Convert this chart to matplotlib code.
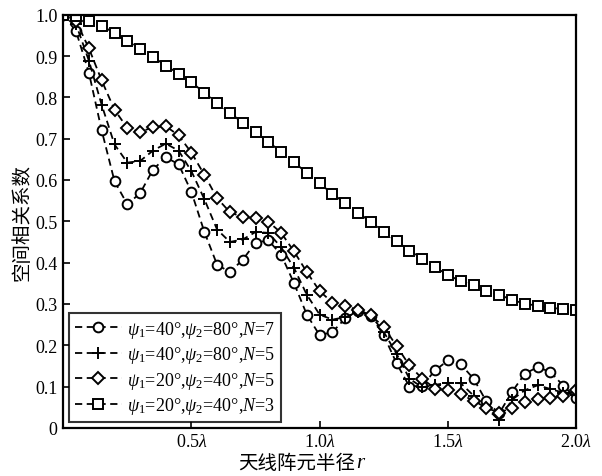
import matplotlib
matplotlib.use("Agg")
import matplotlib.pyplot as plt
import numpy as np

plt.rcParams['font.family'] = ['Liberation Serif', 'Noto Sans CJK SC']
plt.rcParams['mathtext.fontset'] = 'custom'
plt.rcParams['mathtext.rm'] = 'Liberation Serif'
plt.rcParams['mathtext.it'] = 'Liberation Serif:italic'

# radius r in wavelengths, 0.05 lambda steps
r = np.arange(41) * 0.05

rho_a = [1.0, 0.96, 0.86, 0.72, 0.597, 0.541, 0.568, 0.625, 0.655, 0.638,
         0.571, 0.475, 0.395, 0.377, 0.407, 0.448, 0.454, 0.419, 0.35, 0.274,
         0.224, 0.232, 0.265, 0.284, 0.271, 0.224, 0.156, 0.10, 0.102, 0.139,
         0.163, 0.154, 0.119, 0.064, 0.035, 0.087, 0.131, 0.147, 0.135, 0.102,
         0.071]
rho_b = [1.0, 0.977, 0.889, 0.782, 0.686, 0.642, 0.646, 0.671, 0.688, 0.671,
         0.621, 0.554, 0.48, 0.45, 0.456, 0.474, 0.472, 0.437, 0.387, 0.322,
         0.274, 0.262, 0.268, 0.28, 0.272, 0.232, 0.179, 0.119, 0.098, 0.104,
         0.109, 0.108, 0.078, 0.048, 0.018, 0.068, 0.091, 0.103, 0.094, 0.085,
         0.079]
rho_c = [1.0, 0.985, 0.919, 0.841, 0.77, 0.726, 0.716, 0.728, 0.73, 0.708,
         0.666, 0.613, 0.556, 0.522, 0.51, 0.508, 0.499, 0.472, 0.427, 0.377,
         0.331, 0.303, 0.294, 0.286, 0.272, 0.244, 0.198, 0.151, 0.119, 0.095,
         0.092, 0.081, 0.066, 0.048, 0.037, 0.048, 0.062, 0.07, 0.072, 0.078,
         0.091]
rho_d = [1.0, 0.997, 0.986, 0.973, 0.956, 0.936, 0.918, 0.898, 0.877, 0.857,
         0.837, 0.811, 0.786, 0.763, 0.738, 0.716, 0.692, 0.668, 0.643, 0.617,
         0.592, 0.566, 0.544, 0.521, 0.498, 0.474, 0.452, 0.429, 0.409, 0.389,
         0.370, 0.355, 0.345, 0.331, 0.322, 0.310, 0.300, 0.296, 0.290, 0.288,
         0.286]

labels = [r'$\psi_1$=40°,$\psi_2$=80°,$N$=7',
          r'$\psi_1$=40°,$\psi_2$=80°,$N$=5',
          r'$\psi_1$=20°,$\psi_2$=40°,$N$=5',
          r'$\psi_1$=20°,$\psi_2$=40°,$N$=3']
markers = ['o', '+', 'D', 's']
msizes = [7, 9, 6, 7]

fig = plt.figure(figsize=(6.02, 4.77), dpi=100)
ax = fig.add_axes([0.105, 0.101, 0.852, 0.866])

for y, lab, m, ms in zip([rho_a, rho_b, rho_c, rho_d], labels, markers, msizes):
    ax.plot(r, y, linestyle='--', color='black', linewidth=1.3, marker=m,
            markersize=ms, markerfacecolor='white', markeredgecolor='black',
            markeredgewidth=1.4, label=lab, dashes=(4, 2.5))

ax.set_xlim(0, 2.0)
ax.set_ylim(0, 1.0)
ax.set_xticks([0.5, 1.0, 1.5, 2.0])
ax.set_xticklabels([r'0.5$\lambda$', r'1.0$\lambda$', r'1.5$\lambda$', r'2.0$\lambda$'])
ax.set_yticks(np.arange(0, 1.01, 0.1))
ax.set_yticklabels(['0'] + ['%.1f' % v for v in np.arange(0.1, 1.01, 0.1)])
ax.tick_params(direction='in', length=5, width=1.2, labelsize=13, pad=4)
for s in ax.spines.values():
    s.set_linewidth(1.6)

# x label: CJK part plus italic r (mathtext can't render CJK)
fig.text(355 / 602, 1 - 464 / 477, '天线阵元半径', family='Noto Sans CJK SC',
         fontsize=14, ha='right', va='center')
fig.text(356 / 602, 1 - 464 / 477, 'r', family='Liberation Serif', style='italic',
         fontsize=15, ha='left', va='center')
ax.set_ylabel('空间相关系数', family='Noto Sans CJK SC', fontsize=14, labelpad=2)

leg = ax.legend(loc='lower left', bbox_to_anchor=(0.012, 0.015), fontsize=13,
                frameon=True, fancybox=False, edgecolor='black', handlelength=2.6,
                handletextpad=0.3, labelspacing=0.25, borderpad=0.3, borderaxespad=0)
leg.get_frame().set_linewidth(1.5)

fig.savefig('out.png', dpi=100)
